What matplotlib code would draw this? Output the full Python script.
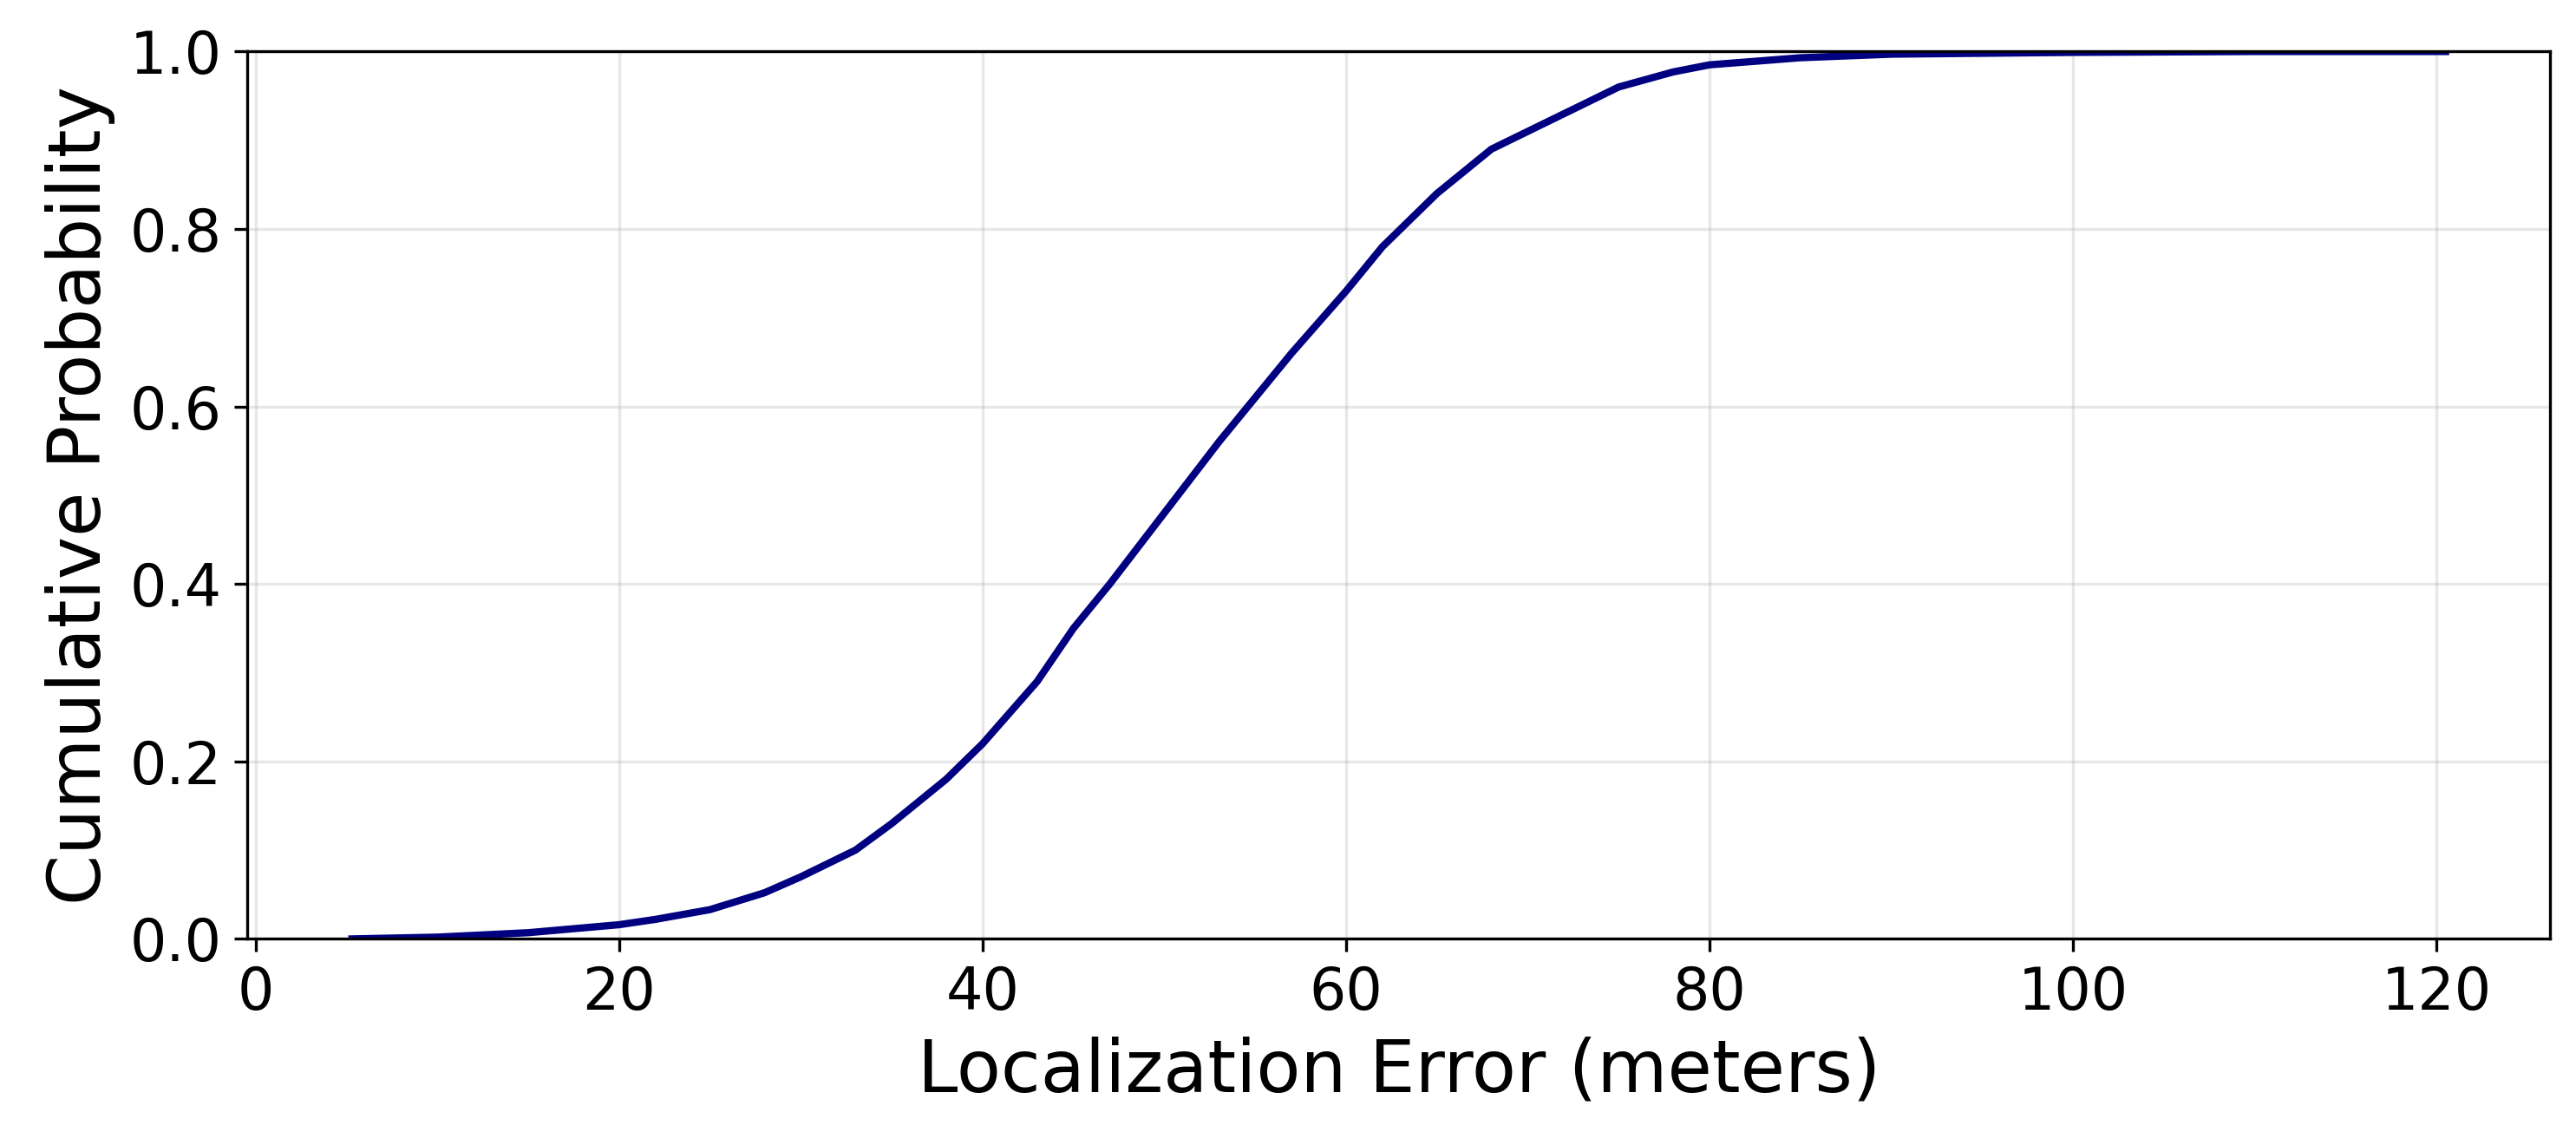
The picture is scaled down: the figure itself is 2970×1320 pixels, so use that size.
import matplotlib
matplotlib.use("Agg")
import matplotlib.pyplot as plt

error_m = [5.3, 10, 15, 20, 22, 25, 28, 30, 33, 35, 38, 40, 43, 45, 47, 50, 53, 55, 57, 60, 62, 65, 68, 70, 73, 75, 78, 80, 85, 90, 100, 110, 120.5]
cum_prob = [0.0, 0.002, 0.007, 0.016, 0.022, 0.033, 0.052, 0.07, 0.10, 0.13, 0.18, 0.22, 0.29, 0.35, 0.40, 0.48, 0.56, 0.61, 0.66, 0.73, 0.78, 0.84, 0.89, 0.91, 0.94, 0.96, 0.977, 0.985, 0.993, 0.997, 0.999, 1.0, 1.0]

fig, ax = plt.subplots(figsize=(9.9, 4.4), dpi=300)
ax.plot(error_m, cum_prob, color="navy", lw=2)
ax.set_ylim(0, 1)
ax.set_xlabel("Localization Error (meters)", fontsize=20)
ax.set_ylabel("Cumulative Probability", fontsize=20)
ax.tick_params(labelsize=16)
ax.grid(True, alpha=0.3)
fig.subplots_adjust(left=0.096, right=0.99, top=0.955, bottom=0.18)
fig.savefig("out.png")
